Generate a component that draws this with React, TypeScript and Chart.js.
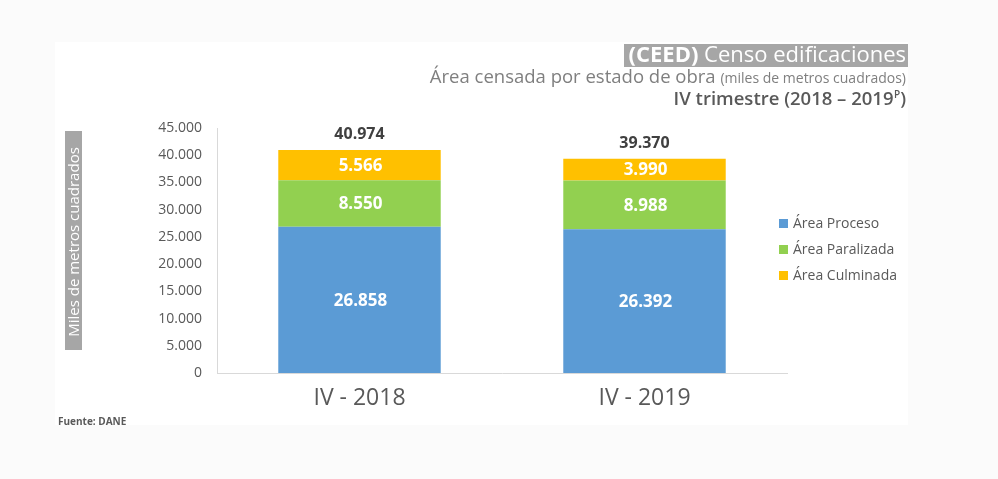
import React, { useEffect, useRef } from "react";
import { Chart, registerables } from "chart.js";

Chart.register(...registerables);

const categories = ["IV - 2018", "IV - 2019"];
const seriesNames = ["Área Proceso", "Área Paralizada", "Área Culminada"];
const proceso = [26858, 26392];
const paralizada = [8550, 8988];
const culminada = [5566, 3990];
const totals = [40974, 39370];
const colors = ["#5b9bd5", "#92d050", "#ffc000"];
const yTicks = [0, 5000, 10000, 15000, 20000, 25000, 30000, 35000, 40000, 45000];

const FONT = "'Open Sans', sans-serif";
const fmt = (v: number) => v.toLocaleString("de-DE");

const decorPlugin = {
  id: "decor",
  beforeDraw(chart: any) {
    const ctx = chart.ctx;
    ctx.save();
    ctx.fillStyle = "#fbfbfb";
    ctx.fillRect(0, 0, chart.width, chart.height);
    ctx.fillStyle = "#ffffff";
    ctx.fillRect(55, 42, 853, 383);
    ctx.restore();
  },
  afterDraw(chart: any) {
    const ctx = chart.ctx;
    ctx.save();
    // Title box
    ctx.fillStyle = "#a6a6a6";
    ctx.fillRect(624, 44, 284, 23);
    ctx.textBaseline = "middle";
    ctx.textAlign = "right";
    ctx.fillStyle = "#ffffff";
    ctx.font = `22px ${FONT}`;
    const rest = " Censo edificaciones";
    const restW = ctx.measureText(rest).width;
    ctx.fillText(rest, 906, 56);
    ctx.font = `bold 22px ${FONT}`;
    ctx.fillText("(CEED)", 906 - restW, 56);
    // Subtitle
    ctx.fillStyle = "#7f7f7f";
    ctx.font = `14px ${FONT}`;
    const sub2 = "(miles de metros cuadrados)";
    const sub2W = ctx.measureText(sub2).width;
    ctx.fillText(sub2, 906, 79);
    ctx.font = `18.5px ${FONT}`;
    ctx.fillText("Área censada por estado de obra ", 906 - sub2W, 78);
    // third line
    ctx.fillStyle = "#595959";
    ctx.font = `600 18.5px ${FONT}`;
    const close = ")";
    const closeW = ctx.measureText(close).width;
    ctx.fillText(close, 906, 100);
    ctx.font = `600 10px ${FONT}`;
    const pW = ctx.measureText("P").width;
    ctx.fillText("P", 906 - closeW, 95);
    ctx.font = `600 18.5px ${FONT}`;
    ctx.fillText("IV trimestre (2018 – 2019", 906 - closeW - pW - 0.5, 100);
    // Y axis title box
    ctx.fillStyle = "#a6a6a6";
    ctx.fillRect(65, 131, 17, 219);
    ctx.translate(74, 242);
    ctx.rotate(-Math.PI / 2);
    ctx.textAlign = "center";
    ctx.fillStyle = "#ffffff";
    ctx.font = `15px ${FONT}`;
    ctx.fillText("Miles de metros cuadrados", 0, 1);
    ctx.setTransform(1, 0, 0, 1, 0, 0);
    // Legend
    chart.data.datasets.forEach((ds: any, i: number) => {
      const y = 224 + i * 26;
      ctx.fillStyle = ds.backgroundColor;
      ctx.fillRect(779, y - 5, 9, 9);
      ctx.fillStyle = "#595959";
      ctx.font = `14px ${FONT}`;
      ctx.textAlign = "left";
      ctx.textBaseline = "middle";
      ctx.fillText(ds.label, 793, y);
    });
    // Data labels
    chart.data.datasets.forEach((ds: any, di: number) => {
      const meta = chart.getDatasetMeta(di);
      meta.data.forEach((bar: any, i: number) => {
        const cy = (bar.y + bar.base) / 2;
        ctx.fillStyle = "#ffffff";
        ctx.font = `bold 17px ${FONT}`;
        ctx.textAlign = "center";
        ctx.textBaseline = "middle";
        ctx.fillText(fmt(ds.data[i]), bar.x + 1, cy + 1);
      });
    });
    // totals
    const yScale = chart.scales.y;
    const xScale = chart.scales.x;
    totals.forEach((t, i) => {
      ctx.fillStyle = "#404040";
      ctx.font = `bold 16px ${FONT}`;
      ctx.textAlign = "center";
      ctx.textBaseline = "middle";
      ctx.fillText(fmt(t), xScale.getPixelForValue(i), yScale.getPixelForValue(t) - 15);
    });
    // Source
    ctx.fillStyle = "#595959";
    ctx.font = `bold 10px ${FONT}`;
    ctx.textAlign = "left";
    ctx.fillText("Fuente: DANE", 58, 422);
    ctx.restore();
  },
};

export default function App() {
  const ref = useRef<HTMLCanvasElement>(null);
  useEffect(() => {
    document.body.style.margin = "0";
    const chart = new Chart(ref.current!, {
      type: "bar",
      data: {
        labels: categories,
        datasets: [
          { label: seriesNames[0], data: proceso, backgroundColor: colors[0], barPercentage: 0.57, categoryPercentage: 1 },
          { label: seriesNames[1], data: paralizada, backgroundColor: colors[1], barPercentage: 0.57, categoryPercentage: 1 },
          { label: seriesNames[2], data: culminada, backgroundColor: colors[2], barPercentage: 0.57, categoryPercentage: 1 },
        ],
      },
      options: {
        responsive: false,
        animation: false,
        layout: { padding: { left: 0, right: 211, top: 128, bottom: 0 } },
        plugins: { legend: { display: false }, tooltip: { enabled: false }, title: { display: false } },
        scales: {
          x: {
            stacked: true,
            grid: { display: false },
            border: { display: true, color: "#d9d9d9", width: 1 },
            ticks: { color: "#595959", font: { family: "'Open Sans'", size: 23 }, padding: 4 },
            afterFit: (s: any) => { s.height = 106; },
          },
          y: {
            stacked: true,
            min: 0,
            max: 45000,
            grid: { display: false },
            border: { display: true, color: "#d9d9d9", width: 1 },
            afterBuildTicks: (s: any) => { s.ticks = yTicks.map((v) => ({ value: v })); },
            ticks: {
              color: "#595959",
              font: { family: "'Open Sans'", size: 14 },
              padding: 7,
              callback: (v: any) => fmt(Number(v)),
            },
            afterFit: (s: any) => { s.width = 217; },
          },
        },
      },
      plugins: [decorPlugin],
    });
    return () => chart.destroy();
  }, []);
  return (
    <div style={{ position: "fixed", left: 0, top: 0, width: 998, height: 479 }}>
      <canvas ref={ref} width={998} height={479} style={{ width: 998, height: 479 }} />
    </div>
  );
}
